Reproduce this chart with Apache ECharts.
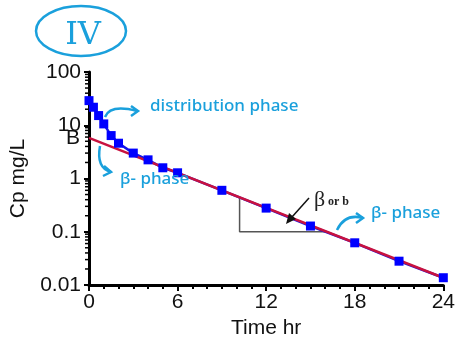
<!DOCTYPE html>
<html>
<head>
<meta charset="utf-8">
<script src="https://cdn.jsdelivr.net/npm/echarts@6/dist/echarts.min.js"></script>
<style>
  html, body { margin: 0; padding: 0; background: #fff; }
  #main { width: 458px; height: 345px; }
</style>
</head>
<body>
<div id="main"></div>
<script>
// 数据
var hours = [0, 0.3, 0.65, 1, 1.5, 2, 3, 4, 5, 6, 9, 12, 15, 18, 21, 24];
var cp = [29, 21.8, 15.2, 10.6, 6.4, 4.6, 3.0, 2.24, 1.59, 1.28, 0.6, 0.278, 0.128, 0.062, 0.028, 0.0137];
var betaHours = [0, 24];
var betaCp = [5.8, 0.0137];
var slopeHours = [10.2, 10.2, 16.2];
var slopeCp = [0.45, 0.1, 0.1];
var xTicks = [0, 6, 12, 18, 24];
var yTicks = [0.01, 0.1, 1, 10, 100];
var yMinorTicks = [0.02, 0.03, 0.04, 0.05, 0.06, 0.07, 0.08, 0.09,
  0.2, 0.3, 0.4, 0.5, 0.6, 0.7, 0.8, 0.9,
  2, 3, 4, 5, 6, 7, 8, 9,
  20, 30, 40, 50, 60, 70, 80, 90];

var pair = function (xs, ys) { return xs.map(function (x, i) { return [x, ys[i]]; }); };

var myChart = echarts.init(document.getElementById('main'));
var hand = '#1aa0dc';
var font = '"Liberation Sans", Arial, sans-serif';
var handFont = '500 17px "Noto Sans", sans-serif';

var option = {
    animation: false,
    grid: { left: 87, right: 13, top: 72, bottom: 60 },
    xAxis: {
        type: 'value',
        min: 0, max: 24, interval: 6,
        name: 'Time hr',
        nameLocation: 'middle',
        nameGap: 33,
        nameTextStyle: { fontSize: 21, color: '#111', fontFamily: font },
        axisLine: { lineStyle: { color: '#000', width: 3 } },
        axisTick: { length: 6, lineStyle: { color: '#000', width: 2 } },
        minorTick: { show: true, splitNumber: 6, length: 4, lineStyle: { color: '#000', width: 2 } },
        splitLine: { show: false },
        axisLabel: {
            fontSize: 21, color: '#111', fontFamily: font, margin: 7,
            formatter: function (v) { return xTicks.indexOf(v) >= 0 ? String(v) : ''; }
        }
    },
    yAxis: {
        type: 'log',
        logBase: 10,
        min: 0.01, max: 100,
        name: 'Cp mg/L',
        nameLocation: 'middle',
        nameGap: 60,
        nameTextStyle: { fontSize: 21, color: '#111', fontFamily: font },
        axisLine: { lineStyle: { color: '#000', width: 3 } },
        axisTick: { length: 5, lineStyle: { color: '#000', width: 2 } },
        splitLine: { show: false },
        axisLabel: {
            fontSize: 21, color: '#111', fontFamily: font, margin: 8,
            formatter: function (v) {
                var r = +(+v).toPrecision(3);
                return yTicks.indexOf(r) >= 0 ? String(r) : '';
            }
        }
    },
    series: [
        {
            // 对数轴的次刻度
            type: 'custom',
            silent: true,
            clip: false,
            z: 5,
            renderItem: function (params, api) {
                var p = api.coord([0, api.value(1)]);
                return {
                    type: 'line',
                    shape: { x1: p[0] - 4, y1: p[1], x2: p[0], y2: p[1] },
                    style: { stroke: '#000', lineWidth: 1.5 }
                };
            },
            data: yMinorTicks.map(function (v) { return [0, v]; })
        },
        {
            type: 'line',
            data: pair(slopeHours, slopeCp),
            showSymbol: false,
            lineStyle: { color: '#555', width: 1.5 },
            z: 2
        },
        {
            type: 'line',
            data: pair(hours, cp),
            showSymbol: false,
            lineStyle: { color: '#1414e6', width: 2.5 },
            z: 3
        },
        {
            type: 'line',
            data: pair(betaHours, betaCp),
            showSymbol: false,
            lineStyle: { color: '#c8123f', width: 2.5 },
            z: 4
        },
        {
            type: 'scatter',
            data: pair(hours, cp),
            symbol: 'rect',
            symbolSize: 9,
            itemStyle: { color: '#0000ff', opacity: 1 },
            z: 6
        },
        {
            // 截距 B
            type: 'custom',
            silent: true,
            clip: false,
            z: 6,
            renderItem: function (params, api) {
                var p = api.coord([api.value(0), api.value(1)]);
                return {
                    type: 'text',
                    x: p[0] - 9,
                    y: p[1],
                    style: {
                        text: 'B', fill: '#111', align: 'right', verticalAlign: 'middle',
                        font: '21px "Liberation Sans", Arial, sans-serif'
                    }
                };
            },
            data: [[0, betaCp[0]]]
        }
    ],
    graphic: [
        // 手写标注
        { type: 'ellipse', shape: { cx: 81, cy: 31, rx: 45, ry: 25 }, style: { fill: 'none', stroke: hand, lineWidth: 2.5 }, z: 100 },
        { type: 'text', x: 83, y: 36, style: { text: 'IV', font: '32px "DejaVu Serif", serif', fill: hand, align: 'center', verticalAlign: 'middle' }, z: 100 },
        { type: 'text', x: 150, y: 106, style: { text: 'distribution phase', font: handFont, fill: hand, verticalAlign: 'middle' }, z: 100 },
        { type: 'bezierCurve', shape: { x1: 105, y1: 117, cpx1: 110, cpy1: 104, x2: 137, y2: 111 }, style: { fill: 'none', stroke: hand, lineWidth: 2.5 }, z: 100 },
        { type: 'polyline', shape: { points: [[131, 106], [138, 111], [131, 116]] }, style: { fill: 'none', stroke: hand, lineWidth: 2.5 }, z: 100 },
        { type: 'text', x: 120, y: 179, style: { text: 'β- phase', font: handFont, fill: hand, verticalAlign: 'middle' }, z: 100 },
        { type: 'bezierCurve', shape: { x1: 100, y1: 146, cpx1: 96, cpy1: 168, x2: 111, y2: 172 }, style: { fill: 'none', stroke: hand, lineWidth: 2.5 }, z: 100 },
        { type: 'polyline', shape: { points: [[104, 166], [111, 172], [103, 176]] }, style: { fill: 'none', stroke: hand, lineWidth: 2.5 }, z: 100 },
        { type: 'text', x: 371, y: 213, style: { text: 'β- phase', font: handFont, fill: hand, verticalAlign: 'middle' }, z: 100 },
        { type: 'bezierCurve', shape: { x1: 337, y1: 230, cpx1: 345, cpy1: 213, x2: 363, y2: 218 }, style: { fill: 'none', stroke: hand, lineWidth: 2.5 }, z: 100 },
        { type: 'polyline', shape: { points: [[356, 213], [363, 218], [356, 223]] }, style: { fill: 'none', stroke: hand, lineWidth: 2.5 }, z: 100 },
        // β or b 标注
        { type: 'line', shape: { x1: 309, y1: 198, x2: 292, y2: 217 }, style: { stroke: '#111', lineWidth: 1.5 }, z: 100 },
        { type: 'polygon', shape: { points: [[286, 224], [289, 213], [296, 219]] }, style: { fill: '#111' }, z: 100 },
        { type: 'text', x: 314, y: 200, style: { text: 'β', font: '22px "Liberation Serif", "Times New Roman", serif', fill: '#222', verticalAlign: 'middle' }, z: 100 },
        { type: 'text', x: 328, y: 202, style: { text: 'or b', font: 'bold 12px "Liberation Serif", "Times New Roman", serif', fill: '#222', verticalAlign: 'middle' }, z: 100 }
    ]
};

// 使用刚指定的配置项和数据显示图表。
myChart.setOption(option);
window.addEventListener('resize', function () {
    myChart.resize();
});
</script>
</body>
</html>
